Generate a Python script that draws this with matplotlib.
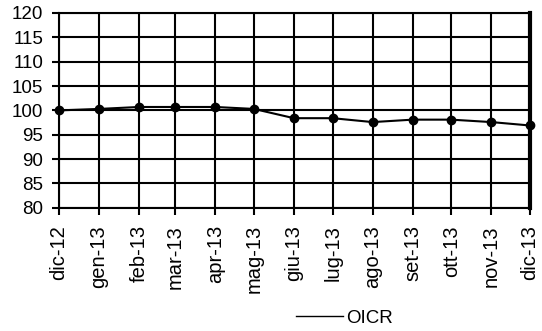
import matplotlib
matplotlib.use("Agg")
import matplotlib.pyplot as plt
from matplotlib.lines import Line2D
from datetime import date

plt.rcParams['font.family'] = ['Liberation Sans', 'DejaVu Sans']

dates = [date(2012, 12, 1), date(2013, 1, 1), date(2013, 2, 1), date(2013, 3, 1),
         date(2013, 4, 1), date(2013, 5, 1), date(2013, 6, 1), date(2013, 7, 1),
         date(2013, 8, 1), date(2013, 9, 1), date(2013, 10, 1), date(2013, 11, 1),
         date(2013, 12, 1)]
labels = ["dic-12", "gen-13", "feb-13", "mar-13", "apr-13", "mag-13", "giu-13",
          "lug-13", "ago-13", "set-13", "ott-13", "nov-13", "dic-13"]
oicr = [100.0, 100.3, 100.7, 100.7, 100.7, 100.3, 98.4, 98.4, 97.6, 98.1, 98.1, 97.6, 96.9]
yticks = [80, 85, 90, 95, 100, 105, 110, 115, 120]

fig = plt.figure(figsize=(5.42, 3.31), dpi=100)
ax = fig.add_axes([0.109, 0.372, 0.869, 0.589])

ax.plot(dates, oicr, color='black', lw=1.5, marker='o', markersize=6,
        zorder=3, clip_on=False)

ax.set_xlim(dates[0], dates[-1])
ax.set_ylim(80, 120)
ax.set_yticks(yticks)
ax.set_xticks(dates)
ax.set_xticklabels(labels, rotation=90)
ax.grid(True, color='black', lw=1.5)
ax.tick_params(axis='both', length=5, width=1.5, color='black')
ax.tick_params(axis='y', labelsize=13.5, pad=6.5)
ax.tick_params(axis='x', labelsize=14.5, pad=7.5)

for s in ['top', 'left', 'bottom']:
    ax.spines[s].set_linewidth(1.5)
ax.spines['right'].set_linewidth(3)

handle = Line2D([], [], color='black', lw=1)
fig.legend(handles=[handle], labels=['OICR'],
           loc='center left', bbox_to_anchor=(279/542, 1-318/331),
           frameon=False, fontsize=13.5, handlelength=2.5,
           handletextpad=0.2)

fig.savefig("out.png", dpi=100)
